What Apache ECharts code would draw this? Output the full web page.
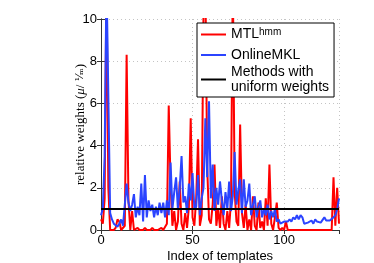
<!DOCTYPE html>
<html><head><meta charset="utf-8">
<script src="https://cdn.jsdelivr.net/npm/echarts@6/dist/echarts.min.js"></script>
<style>html,body{margin:0;padding:0;background:#fff}#c{width:374px;height:263px}</style>
</head><body><div id="c"></div>
<script>
// MTL^hmm relative weights, template index 0..130
var mtl = [0.5,0.3,1.5,12,2,0,0,0,0.1,0.5,0.4,0,0,0.2,8.3,1.4,0,0.9,0,0,
0.1,0,0,0,0.1,0,0,0,0.1,0,0,0,0,0.1,0,0,0.3,5.9,2.2,0.2,
0.9,0,0.4,2.3,0.3,0,0.8,0.1,1.1,5.3,0.6,0.2,1.5,4.3,0.2,0.7,10.5,12,3.0,0.5,
0.3,1.2,3.1,0.2,1.0,0.1,1.6,0.3,0,0.9,0.1,1.4,12,1.8,0.4,0.2,5.0,0.8,0.1,1.2,
0,0.5,0,1.6,0.2,0,1.3,0.1,0.4,0,1.5,0.2,3.1,0.3,0,0.6,1.3,0.1,0,0.1,
0,0.4,0,0,0,0,0,0,0,0,0,0,0,0,0,0,0,0,0,0,
0,0,0,0,0,0,0,2.5,0.2,2.0,0.3];
// OnlineMKL relative weights
var mkl = [0.7,1.0,3.5,12,12,0.8,0.5,0.3,0.3,0.15,0.3,0.5,0.2,0.2,2.2,1.3,0.9,1.2,1.7,0.6,
1.1,0.7,2.2,0.4,2.6,0.6,1.4,0.9,1.2,0.6,1.1,0.7,1.3,0.8,1.3,0.6,1.4,0.7,3.2,1.0,
1.8,2.5,1.0,2.0,3.5,1.3,1.6,0.8,2.2,1.4,2.7,1.0,1.1,2.6,0.7,1.5,2.0,5.3,2.5,6.1,
1.5,3.1,0.9,2.0,1.2,2.3,1.4,0.7,1.8,1.0,2.3,0.9,1.6,3.7,1.2,1.9,2.4,0.8,2.4,1.1,
1.4,2.2,0.7,1.2,1.6,0.6,1.1,1.4,0.6,1.0,0.7,1.2,0.5,0.9,0.6,1.0,0.4,0.5,0.3,0.3,
0.4,0.4,0.4,0.5,0.4,0.6,0.5,0.7,0.5,0.7,0.6,0.3,0.3,0.35,0.4,0.45,0.3,0.5,0.4,0.35,
0.35,0.4,0.6,0.45,0.4,0.45,0.5,0.6,0.7,1.0,1.5];
// uniform weights line
var uniformX = [0,130];
var uniformY = [1,1];
var xTicks = [0,50,100];
var yTicks = [0,2,4,6,8,10];

function pairs(vals){ return vals.map(function(v,i){ return [i,v]; }); }
var chart = echarts.init(document.getElementById('c'));
var FONT = 'Liberation Sans';
var axisCol = '#333';
chart.setOption({
  animation:false,
  textStyle:{fontFamily:FONT},
  grid:{left:101,top:19,width:238,height:211,containLabel:false,outerBoundsMode:'none'},
  xAxis:[{
    type:'value',min:0,max:130,interval:50,
    name:'Index of templates',nameLocation:'middle',nameGap:20,nameMoveOverlap:false,
    nameTextStyle:{fontFamily:FONT,fontSize:13,color:'#000'},
    axisLine:{lineStyle:{color:axisCol,width:1}},
    axisTick:{inside:true,length:4,lineStyle:{color:axisCol}},
    axisLabel:{fontFamily:FONT,fontSize:13,color:'#000',margin:4,showMaxLabel:false},
    splitLine:{show:true,lineStyle:{color:'#c4c4c4',type:[1,3],width:1}}
  },{
    type:'value',position:'top',min:0,max:130,interval:50,
    axisLine:{show:true,lineStyle:{color:axisCol,width:1}},
    axisTick:{show:true,inside:true,length:4,lineStyle:{color:axisCol}},
    axisLabel:{show:false},splitLine:{show:false}
  }],
  yAxis:[{
    type:'value',min:0,max:10,interval:2,
    name:'{a|relative weights (}{i|μ}{a|/ }{f|¹⁄ₘ}{a|)}',
    nameLocation:'middle',nameGap:14,nameRotate:90,nameMoveOverlap:false,
    nameTextStyle:{rich:{
      a:{fontFamily:'Liberation Serif',fontSize:13,color:'#000'},
      i:{fontFamily:'Liberation Serif',fontStyle:'italic',fontSize:13,color:'#000'},
      f:{fontFamily:'DejaVu Serif',fontSize:11,color:'#000'}
    }},
    axisLine:{show:true,lineStyle:{color:axisCol,width:1}},
    axisTick:{inside:true,length:4,lineStyle:{color:axisCol}},
    axisLabel:{fontFamily:FONT,fontSize:13,color:'#000',margin:4},
    splitLine:{show:true,lineStyle:{color:'#c4c4c4',type:[1,3],width:1}}
  },{
    type:'value',position:'right',min:0,max:10,interval:2,
    axisLine:{show:true,lineStyle:{color:axisCol,width:1}},
    axisTick:{show:true,inside:true,length:4,lineStyle:{color:axisCol}},
    axisLabel:{show:false},splitLine:{show:false}
  }],
  legend:{
    orient:'vertical',left:197,top:23,
    backgroundColor:'#fff',borderColor:'#000',borderWidth:1,borderRadius:0,
    padding:[4,5,3,4],itemGap:3,itemWidth:25,itemHeight:2,icon:'rect',
    data:['MTL','OnlineMKL','Methods with\nuniform weights'],
    formatter:function(n){
      if(n==='MTL') return '{a|MTL}{s|hmm}';
      return '{a|'+n.replace('\n','}\n{a|')+'}';
    },
    textStyle:{fontFamily:FONT,color:'#000',padding:[0,0,0,0],
      rich:{a:{fontFamily:FONT,fontSize:14,lineHeight:15,color:'#000'},
            s:{fontFamily:FONT,fontSize:10,color:'#000',verticalAlign:'top',lineHeight:15,padding:[0,0,8,0]}}}
  },
  series:[
    {name:'MTL',type:'line',data:pairs(mtl),symbol:'none',color:'#ff0000',
     lineStyle:{width:2,color:'#ff0000'},clip:true,z:2},
    {name:'OnlineMKL',type:'line',data:pairs(mkl),symbol:'none',color:'#2b44ff',
     lineStyle:{width:2,color:'#2b44ff'},clip:true,z:3},
    {name:'Methods with\nuniform weights',type:'line',
     data:uniformX.map(function(x,i){return [x,uniformY[i]];}),symbol:'none',color:'#000',
     lineStyle:{width:2,color:'#000'},clip:true,z:4}
  ]
});
</script></body></html>
